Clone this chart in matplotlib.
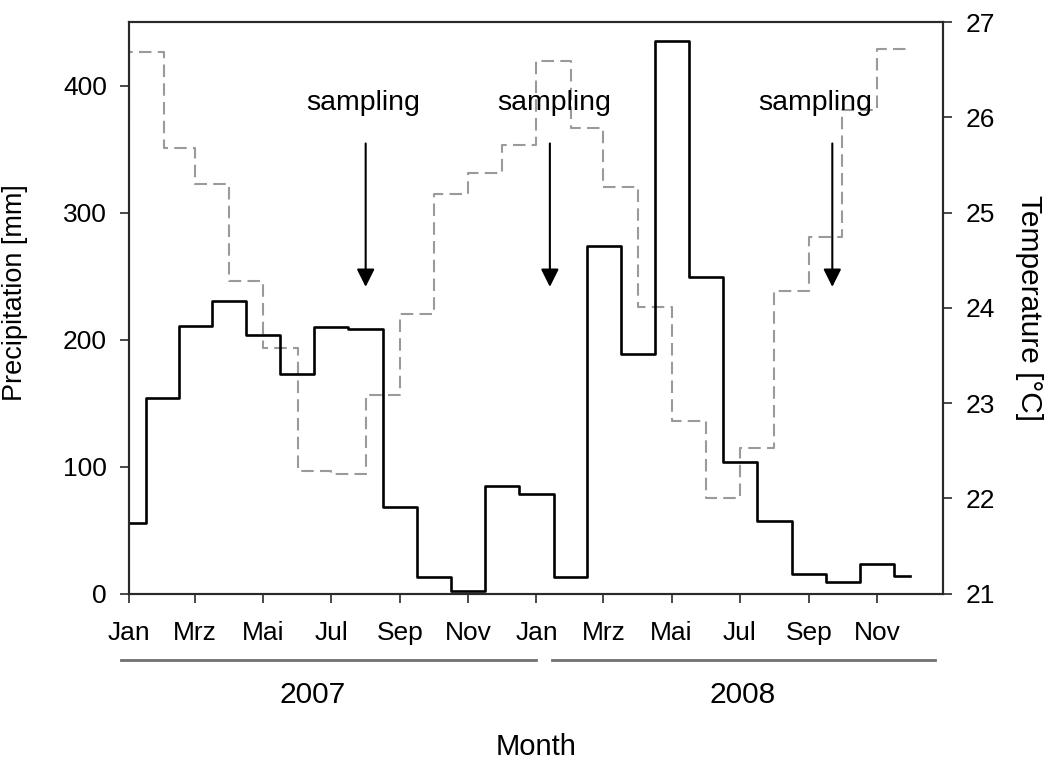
import matplotlib
matplotlib.use("Agg")
import matplotlib.pyplot as plt
import matplotlib.dates as mdates
import pandas as pd

plt.rcParams['font.family'] = ['Liberation Sans', 'DejaVu Sans']

# Monthly series, Jan 2007 .. Dec 2008
months = pd.date_range('2007-01-01', periods=24, freq='MS')
precipitation = [56, 154, 211, 230, 204, 173, 210, 208, 68, 13, 2.5, 85,
                 78.5, 13.4, 273.5, 189, 435, 249, 104, 57.6, 15.6, 9.3, 23.4, 14.2]
temperature = [26.0, 26.68, 25.68, 25.30, 24.28, 23.58, 22.29, 22.26, 23.09, 23.94, 25.20, 25.42,
               25.71, 26.59, 25.89, 25.27, 24.01, 22.81, 22.00, 22.53, 24.18, 24.74, 26.08, 26.72]

tick_dates = pd.date_range('2007-01-01', '2008-12-01', freq='2MS')
tick_labels = ['Jan', 'Mrz', 'Mai', 'Jul', 'Sep', 'Nov'] * 2

sampling_dates = pd.to_datetime(['2007-08-01', '2008-01-13', '2008-09-22'])
sampling_text_dates = pd.to_datetime(['2007-07-30', '2008-01-17', '2008-09-07'])

years = ['2007', '2008']

spine_color = '#2a2a2a'

fig = plt.figure(figsize=(10.48, 7.62), dpi=100)
ax = fig.add_axes([129 / 1048, 1 - 593.7 / 762, 814.3 / 1048, 571.7 / 762])
ax2 = ax.twinx()

ax2.plot(months, temperature, drawstyle='steps-pre', color='#9a9a9a', lw=1.5,
         dashes=(6, 3))
ax.plot(months, precipitation, drawstyle='steps-mid', color='black', lw=1.9)

ax.set_zorder(ax2.get_zorder() + 1)
ax.patch.set_visible(False)

ax.set_xlim(pd.Timestamp('2007-01-01'), pd.Timestamp('2008-12-30 10:00'))
ax.set_ylim(0, 450)
ax2.set_ylim(21, 27)
ax.set_yticks([0, 100, 200, 300, 400])
ax2.set_yticks(range(21, 28))
ax.set_xticks(tick_dates)
ax.set_xticklabels(tick_labels)

for a in (ax, ax2):
    for s in a.spines.values():
        s.set_color(spine_color)
        s.set_linewidth(1.5)
ax.tick_params(axis='x', direction='out', length=6.5, width=1.2, color=spine_color,
               labelsize=19, pad=13.5)
ax.tick_params(axis='y', direction='out', length=6.5, width=1.2, color=spine_color,
               labelsize=19, pad=9.5)
ax2.tick_params(axis='y', direction='out', length=6.5, width=1.2, color=spine_color,
                labelsize=19, pad=9.5)

ax.set_ylabel('Precipitation [mm]', fontsize=19.5)
ax.yaxis.set_label_coords(-0.1244, 0.527)
ax2.set_ylabel('Temperature [°C]', fontsize=21.5, rotation=-90, va='center')
ax2.yaxis.set_label_coords(1.1052, 0.5)

ax.set_xlabel('Month', fontsize=21)
ax.xaxis.label.set_va('baseline')
ax.xaxis.set_label_coords(0.5, -0.282)

# sampling markers
for d, td in zip(sampling_dates, sampling_text_dates):
    ax.annotate('', xy=(d, 241.5), xytext=(d, 354.4),
                arrowprops=dict(arrowstyle='-|>,head_length=0.54,head_width=0.27',
                                mutation_scale=20, lw=1.5, color='black',
                                shrinkA=0, shrinkB=0))
    ax.text(td, 380.6, 'sampling', ha='center', va='baseline', fontsize=20.5)

# year brackets under the month axis
xt = ax.get_xaxis_transform()
bracket_spans = [(pd.Timestamp('2006-12-25'), pd.Timestamp('2008-01-01')),
                 (pd.Timestamp('2008-01-15'), pd.Timestamp('2008-12-23'))]
for (a0, a1) in bracket_spans:
    ax.plot([mdates.date2num(a0), mdates.date2num(a1)], [-0.116, -0.116],
            transform=xt, clip_on=False, color='#707070', lw=2)
for label, xpos in zip(years, [0.226, 0.754]):
    ax.text(xpos, -0.1917, label, transform=ax.transAxes, ha='center',
            va='baseline', fontsize=21.5)

fig.savefig('out.png', dpi=100)
